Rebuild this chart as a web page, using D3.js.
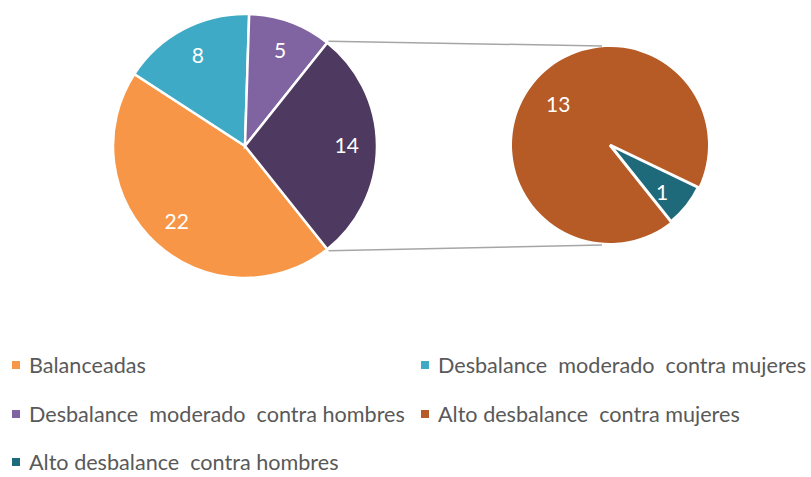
<!DOCTYPE html>
<html>
<head>
<meta charset="utf-8">
<script src="https://cdn.jsdelivr.net/npm/d3@7"></script>
<style>
  body { margin: 0; background: #fff; }
  text { font-family: Lato, "Open Sans", sans-serif; }
</style>
</head>
<body>
<svg width="811" height="477"></svg>
<script>
// main pie categories / values (last one is the "other" that gets split)
var mainCats = ['Balanceadas', 'Desbalance  moderado  contra mujeres', 'Desbalance  moderado  contra hombres', 'Otros'];
var mainVals = [22, 8, 5, 14];
var mainColors = ['#f79646', '#3eaac6', '#8064a2', '#4e3a60'];

// secondary pie
var subCats = ['Alto desbalance  contra mujeres', 'Alto desbalance  contra hombres'];
var subVals = [13, 1];
var subColors = ['#b65a26', '#1f6a7a'];

// legend order
var legendCats = ['Balanceadas', 'Desbalance  moderado  contra mujeres', 'Desbalance  moderado  contra hombres',
    'Alto desbalance  contra mujeres', 'Alto desbalance  contra hombres'];
var legendColors = ['#f79646', '#3eaac6', '#8064a2', '#b65a26', '#1f6a7a'];

var svg = d3.select('svg');
var deg = Math.PI / 180;

// main pie
var mainR = 132, mx = 245, my = 146;
var mainStart = 141.4 * deg;
var mainPie = d3.pie().sort(null).startAngle(mainStart).endAngle(mainStart + 2 * Math.PI);
var mainArcs = mainPie(mainVals);
var arc = d3.arc().innerRadius(0).outerRadius(mainR);

var g1 = svg.append('g').attr('transform', 'translate(' + mx + ',' + my + ')');
g1.selectAll('path')
    .data(mainArcs)
    .enter().append('path')
    .attr('d', arc)
    .attr('fill', function (d, i) { return mainColors[i]; })
    .attr('stroke', '#fff')
    .attr('stroke-width', 2.5);

g1.selectAll('text')
    .data(mainArcs)
    .enter().append('text')
    .attr('transform', function (d, i) {
        var a = (d.startAngle + d.endAngle) / 2;
        var r = mainR * 0.77;
        return 'translate(' + (Math.sin(a) * r) + ',' + (-Math.cos(a) * r) + ')';
    })
    .attr('text-anchor', 'middle')
    .attr('dy', '0.35em')
    .attr('fill', '#fff')
    .style('font-size', '21px')
    .text(function (d) { return d.value; });

// connector lines from the "other" slice to the secondary pie
var subR = 98, sx = 610, sy = 145;
var other = mainArcs[3];
var p1 = [mx + Math.sin(other.startAngle) * (mainR + 2), my - Math.cos(other.startAngle) * (mainR + 2)];
var p2 = [mx + Math.sin(other.endAngle) * (mainR + 2), my - Math.cos(other.endAngle) * (mainR + 2)];
svg.append('line')
    .attr('x1', p1[0]).attr('y1', p1[1]).attr('x2', sx - 8).attr('y2', sy - subR - 1)
    .attr('stroke', '#a6a6a6').attr('stroke-width', 1.5);
svg.append('line')
    .attr('x1', p2[0]).attr('y1', p2[1]).attr('x2', sx - 8).attr('y2', sy + subR + 2)
    .attr('stroke', '#a6a6a6').attr('stroke-width', 1.5);

// secondary pie
var subStart = 141.4 * deg;
var subPie = d3.pie().sort(null).startAngle(subStart).endAngle(subStart + 2 * Math.PI);
var subArcs = subPie(subVals);
var arc2 = d3.arc().innerRadius(0).outerRadius(subR);

var g2 = svg.append('g').attr('transform', 'translate(' + sx + ',' + sy + ')');
g2.selectAll('path')
    .data(subArcs)
    .enter().append('path')
    .attr('d', arc2)
    .attr('fill', function (d, i) { return subColors[i]; })
    .attr('stroke', '#fff')
    .attr('stroke-width', function (d, i) { return i == 1 ? 3 : 0; });

var subLabelR = [0.67, 0.72];
g2.selectAll('text')
    .data(subArcs)
    .enter().append('text')
    .attr('transform', function (d, i) {
        var a = i == 0 ? -52 * deg : (d.startAngle + d.endAngle) / 2 + 4 * deg;
        var r = subR * subLabelR[i];
        return 'translate(' + (Math.sin(a) * r) + ',' + (-Math.cos(a) * r) + ')';
    })
    .attr('text-anchor', 'middle')
    .attr('dy', '0.35em')
    .attr('fill', '#fff')
    .style('font-size', '21px')
    .text(function (d) { return d.value; });

// legend
var legendPos = [[12, 365], [421, 365], [12, 414], [421, 414], [12, 462]];
var leg = svg.append('g').selectAll('g')
    .data(legendCats)
    .enter().append('g')
    .attr('transform', function (d, i) { return 'translate(' + legendPos[i][0] + ',' + legendPos[i][1] + ')'; });
leg.append('rect')
    .attr('x', 0).attr('y', -4).attr('width', 8).attr('height', 8)
    .attr('fill', function (d, i) { return legendColors[i]; });
leg.append('text')
    .attr('x', 17)
    .attr('dy', '0.35em')
    .attr('fill', '#595959')
    .style('font-size', '21.6px')
    .style('white-space', 'pre')
    .text(function (d) { return d; });
</script>
</body>
</html>
